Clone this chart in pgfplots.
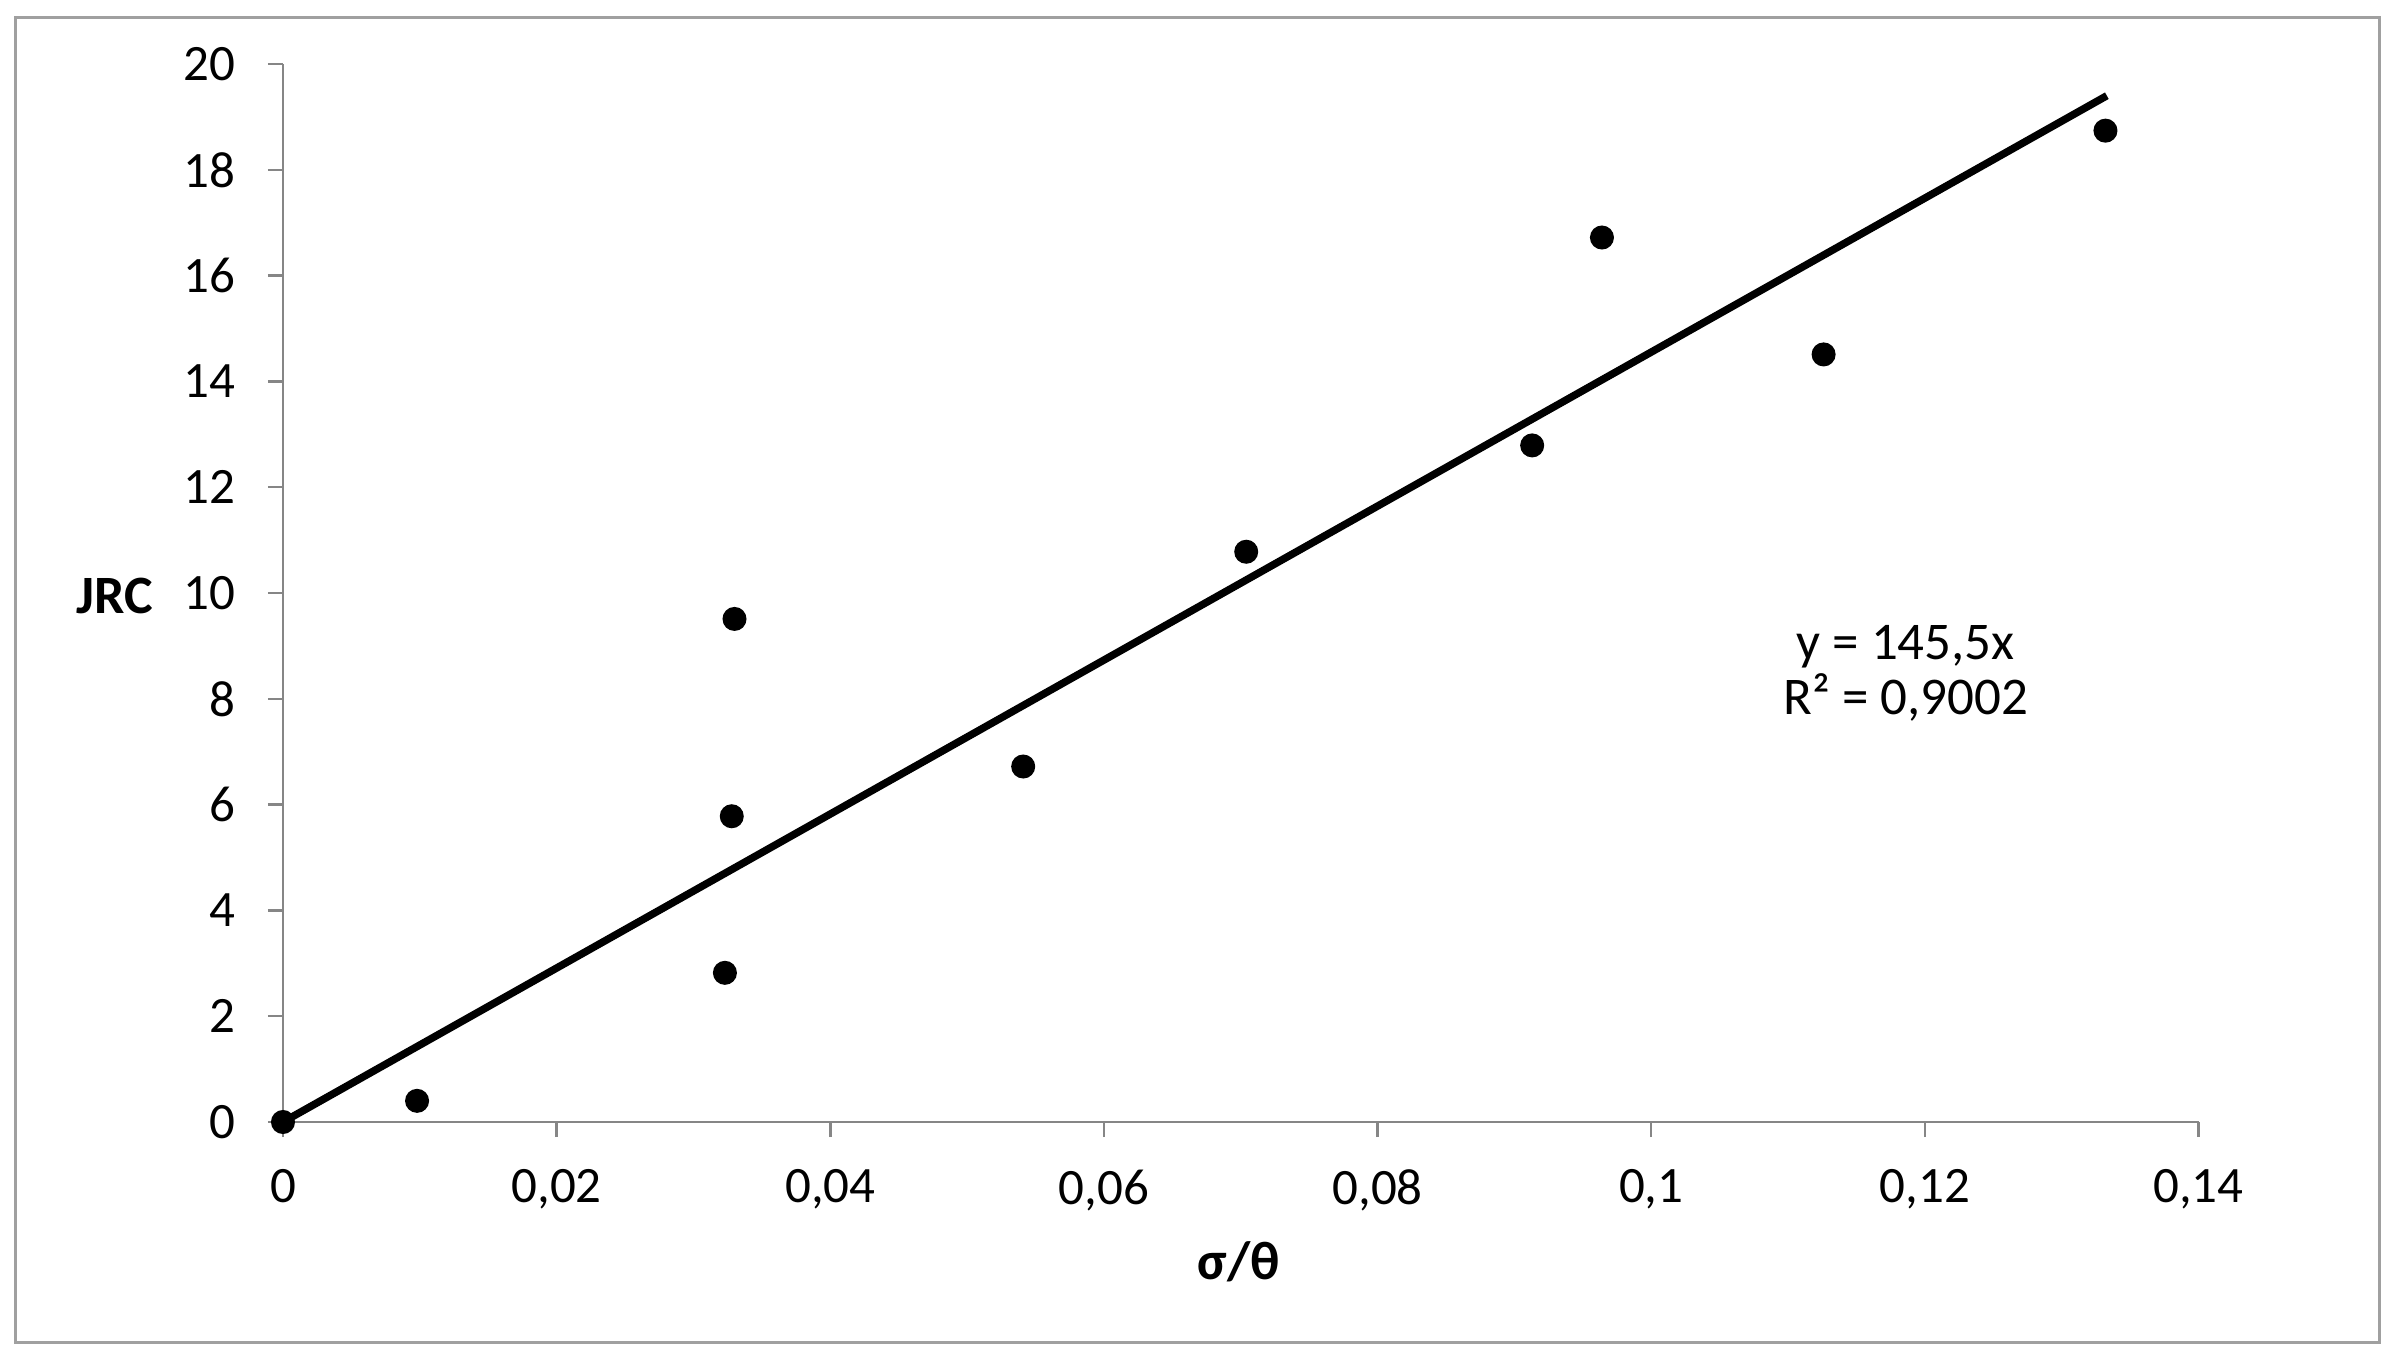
\documentclass[border=0pt]{standalone}
\usepackage{fontspec}
\setmainfont{Carlito}
\usepackage{pgfplots}
\pgfplotsset{compat=1.18}
\definecolor{axgray}{RGB}{134,134,134}
\definecolor{framegray}{RGB}{160,160,160}

\begin{document}
\begin{tikzpicture}
% page and outer chart frame (1 px of the 1568-wide view = 0.304pt)
\path[use as bounding box] (-56.6pt,-46.5pt) rectangle (420.2pt,224.4pt);
\draw[framegray, line width=0.6pt] (-53.5pt,-44.1pt) rectangle (419.3pt,220.8pt);
\begin{axis}[
  at={(0,0)}, anchor=origin,
  scale only axis,
  width=383.1pt, height=211.6pt,
  xmin=0, xmax=0.14, ymin=0, ymax=20,
  xtick={0,0.02,0.04,0.06,0.08,0.1,0.12,0.14},
  ytick={0,2,4,6,8,10,12,14,16,18,20},
  scaled x ticks=false,
  axis lines*=left,
  axis line style={axgray, line width=0.5pt, -},
  tick style={axgray, line width=0.5pt},
  tick align=outside,
  major tick length=3pt,
  /pgf/number format/assume math mode=true,
  xticklabel style={/pgf/number format/fixed, /pgf/number format/precision=2,
    /pgf/number format/use comma, font=\fontsize{10.2pt}{12pt}\selectfont, yshift=-3pt},
  yticklabel style={font=\fontsize{10.2pt}{12pt}\selectfont, xshift=-3pt},
  xlabel={\textbf{σ/θ}},
  xlabel style={font=\fontsize{10.8pt}{12pt}\selectfont, at={(axis description cs:0.499,-0.132)}, anchor=center},
  ylabel={\textbf{JRC}},
  ylabel style={font=\fontsize{10.8pt}{12pt}\selectfont, rotate=-90, at={(axis description cs:-0.088,0.497)}, anchor=center},
  clip=false,
]
\addplot[black, line width=1.5pt] coordinates {(0,0) (0.1333,19.40)};
\addplot[only marks, mark=*, mark size=2.2pt, black] coordinates {
  (0,0) (0.0098,0.40) (0.0323,2.82) (0.0328,5.78) (0.0330,9.51)
  (0.0541,6.72) (0.0704,10.78) (0.0913,12.79) (0.0964,16.72)
  (0.1126,14.51) (0.1332,18.74)
};
\node[align=center, font=\fontsize{10.6pt}{11pt}\selectfont] at (axis cs:0.1186,8.48)
  {y = 145,5x\\R² = 0,9002};
\end{axis}
\end{tikzpicture}
\end{document}
